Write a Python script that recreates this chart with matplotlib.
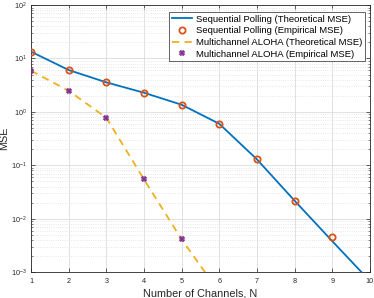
import numpy as np
import matplotlib
matplotlib.use('Agg')
import matplotlib.pyplot as plt
from matplotlib.ticker import LogLocator, NullFormatter

plt.rcParams['font.family'] = ['Liberation Sans', 'DejaVu Sans']
plt.rcParams['mathtext.fontset'] = 'custom'
plt.rcParams['mathtext.rm'] = 'Liberation Sans'

# data
n_sp = [1, 2, 3, 4, 5, 6, 7, 8, 9, 10]
sp_theory = [13.4, 6.07, 3.57, 2.28, 1.36, 0.598, 0.129, 0.0217, 0.0038, 0.00068]
sp_empirical = [13.4, 6.07, 3.57, 2.28, 1.36, 0.598, 0.129, 0.0217, 0.0046]

n_aloha = [1, 2, 3, 4, 5, 6]
aloha_theory = [5.89, 2.48, 0.776, 0.0544, 0.00409, 0.00042]
aloha_empirical = [5.89, 2.48, 0.776, 0.0544, 0.00409]

BLUE = '#0072BD'
ORANGE = '#D95319'
YELLOW = '#EDB120'
PURPLE = '#7E2F8E'

fig = plt.figure(figsize=(3.74, 2.98), dpi=100)
ax = fig.add_axes([0.083, 0.087, 0.906, 0.896])

ax.plot(n_sp, sp_theory, color=BLUE, linewidth=1.3, label='Sequential Polling (Theoretical MSE)', zorder=3)
ax.plot(n_sp[:len(sp_empirical)], sp_empirical, linestyle='none', marker='o', markersize=4.5,
        markerfacecolor='none', markeredgecolor=ORANGE, markeredgewidth=1.3,
        label='Sequential Polling (Empirical MSE)', zorder=4)
ax.plot(n_aloha, aloha_theory, color=YELLOW, linewidth=1.3, linestyle=(0, (4, 3)),
        label='Multichannel ALOHA (Theoretical MSE)', zorder=3)
ax.plot(n_aloha[:len(aloha_empirical)], aloha_empirical, linestyle='none', marker='X', markersize=4,
        color=PURPLE, markeredgewidth=0.3, label='Multichannel ALOHA (Empirical MSE)', zorder=4)

ax.set_yscale('log')
ax.set_xlim(1, 10)
ax.set_ylim(1e-3, 1e2)
ax.set_xticks(range(1, 11))
ax.yaxis.set_major_locator(LogLocator(base=10, numticks=10))
ax.yaxis.set_minor_locator(LogLocator(base=10, subs=np.arange(2, 10), numticks=10))
ax.yaxis.set_minor_formatter(NullFormatter())

ax.grid(True, which='major', color='#DCDCDC', linewidth=0.6)
ax.grid(True, which='minor', axis='y', color='#E0E0E0', linestyle=':', linewidth=0.6)
ax.set_axisbelow(True)

ax.tick_params(which='both', direction='in', top=True, right=True, labelsize=5.2, colors='#262626')
ax.tick_params(which='major', length=3, width=0.5)
ax.tick_params(which='minor', length=1.5, width=0.4)
ax.tick_params(axis='x', pad=4)
ax.tick_params(axis='y', pad=3)
for s in ax.spines.values():
    s.set_linewidth(0.6)
    s.set_color('#262626')

ax.set_xlabel('Number of Channels, N', fontsize=7.8, color='#262626', labelpad=3)
ax.set_ylabel('MSE', fontsize=7.8, color='#262626')
ax.yaxis.set_label_coords(-0.064, 0.5)

leg = ax.legend(loc='upper right', bbox_to_anchor=(0.985, 0.975), fontsize=6.8, frameon=True,
                fancybox=False, framealpha=1, borderpad=0.3, labelspacing=0.28,
                handlelength=2.2, handletextpad=0.35, borderaxespad=0)
leg.get_frame().set_edgecolor('#262626')
leg.get_frame().set_linewidth(0.5)

fig.savefig('out.png', dpi=100)
